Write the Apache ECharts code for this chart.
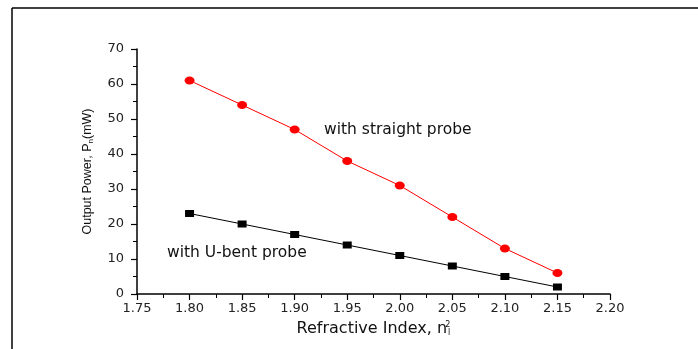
<!DOCTYPE html>
<html>
<head>
<meta charset="utf-8">
<script src="https://cdn.jsdelivr.net/npm/echarts@6/dist/echarts.min.js"></script>
<style>
  html, body { margin: 0; padding: 0; background: #fff; }
  #chart { width: 698px; height: 349px; }
</style>
</head>
<body>
<div id="chart"></div>
<script>
const refractiveIndex = [1.80, 1.85, 1.90, 1.95, 2.00, 2.05, 2.10, 2.15]
const straightProbe = [61, 54, 47, 38, 31, 22, 13, 6]
const uBentProbe = [23, 20, 17, 14, 11, 8, 5, 2]

const chart = echarts.init(document.getElementById('chart'))
const wide = 'DejaVu Sans, Verdana, sans-serif'
const narrow = 'Liberation Sans, Arial, sans-serif'

const pairs = (ys) => refractiveIndex.map((x, i) => [x, ys[i]])

const axisCommon = {
  axisLine: { show: true, lineStyle: { color: '#000', width: 1.5 } },
  axisTick: { show: true, inside: false, length: 6, lineStyle: { color: '#000', width: 1.2 } },
  minorTick: { show: true, splitNumber: 2, length: 4, lineStyle: { color: '#000', width: 1 } },
  splitLine: { show: false },
  axisLabel: { color: '#222', fontFamily: wide, fontSize: 13 },
}

chart.setOption({
  animation: false,
  backgroundColor: '#fff',
  grid: { left: 137, right: 88, top: 49, bottom: 55 },
  xAxis: {
    type: 'value',
    min: 1.75,
    max: 2.20,
    interval: 0.05,
    ...axisCommon,
    axisLabel: { ...axisCommon.axisLabel, margin: 8, formatter: (v) => v.toFixed(2) },
    name: 'Refractive Index, n{sub|l}{sup|2}',
    nameLocation: 'middle',
    nameGap: 27,
    nameTextStyle: {
      color: '#111', fontFamily: wide, fontSize: 16,
      rich: {
        sub: { fontSize: 8, fontFamily: wide, color: '#111', verticalAlign: 'bottom', padding: [7, 0, 0, 1] },
        sup: { fontSize: 8, fontFamily: wide, color: '#111', verticalAlign: 'top', padding: [0, 0, 7, -5] },
      },
    },
  },
  yAxis: {
    type: 'value',
    min: 0,
    max: 70,
    interval: 10,
    ...axisCommon,
    axisLabel: { ...axisCommon.axisLabel, margin: 13 },
    name: 'Output Power, P{sub|n}(mW)',
    nameLocation: 'middle',
    nameGap: 42,
    nameTextStyle: {
      color: '#111', fontFamily: narrow, fontSize: 12.5,
      rich: {
        sub: { fontSize: 8, fontFamily: narrow, color: '#111', verticalAlign: 'bottom', padding: [6, 0, 0, 0] },
      },
    },
  },
  series: [
    {
      name: 'with straight probe',
      type: 'line',
      data: pairs(straightProbe),
      symbol: 'circle',
      symbolSize: [10, 8],
      itemStyle: { color: '#ff0000' },
      lineStyle: { color: '#ff0000', width: 1 },
    },
    {
      name: 'with U-bent probe',
      type: 'line',
      data: pairs(uBentProbe),
      symbol: 'rect',
      symbolSize: [9, 7],
      itemStyle: { color: '#000' },
      lineStyle: { color: '#000', width: 1 },
    },
  ],
  graphic: [
    // figure frame, clipped at right and bottom
    { type: 'line', shape: { x1: 12, y1: 8, x2: 698, y2: 8 }, style: { stroke: '#000', lineWidth: 1.5 } },
    { type: 'line', shape: { x1: 12, y1: 8, x2: 12, y2: 349 }, style: { stroke: '#000', lineWidth: 1.5 } },
    { type: 'text', left: 324, top: 122, style: { text: 'with straight probe', fill: '#111', font: '15.5px ' + wide } },
    { type: 'text', left: 167, top: 245, style: { text: 'with U-bent probe', fill: '#111', font: '15.5px ' + wide } },
  ],
})
</script>
</body>
</html>
